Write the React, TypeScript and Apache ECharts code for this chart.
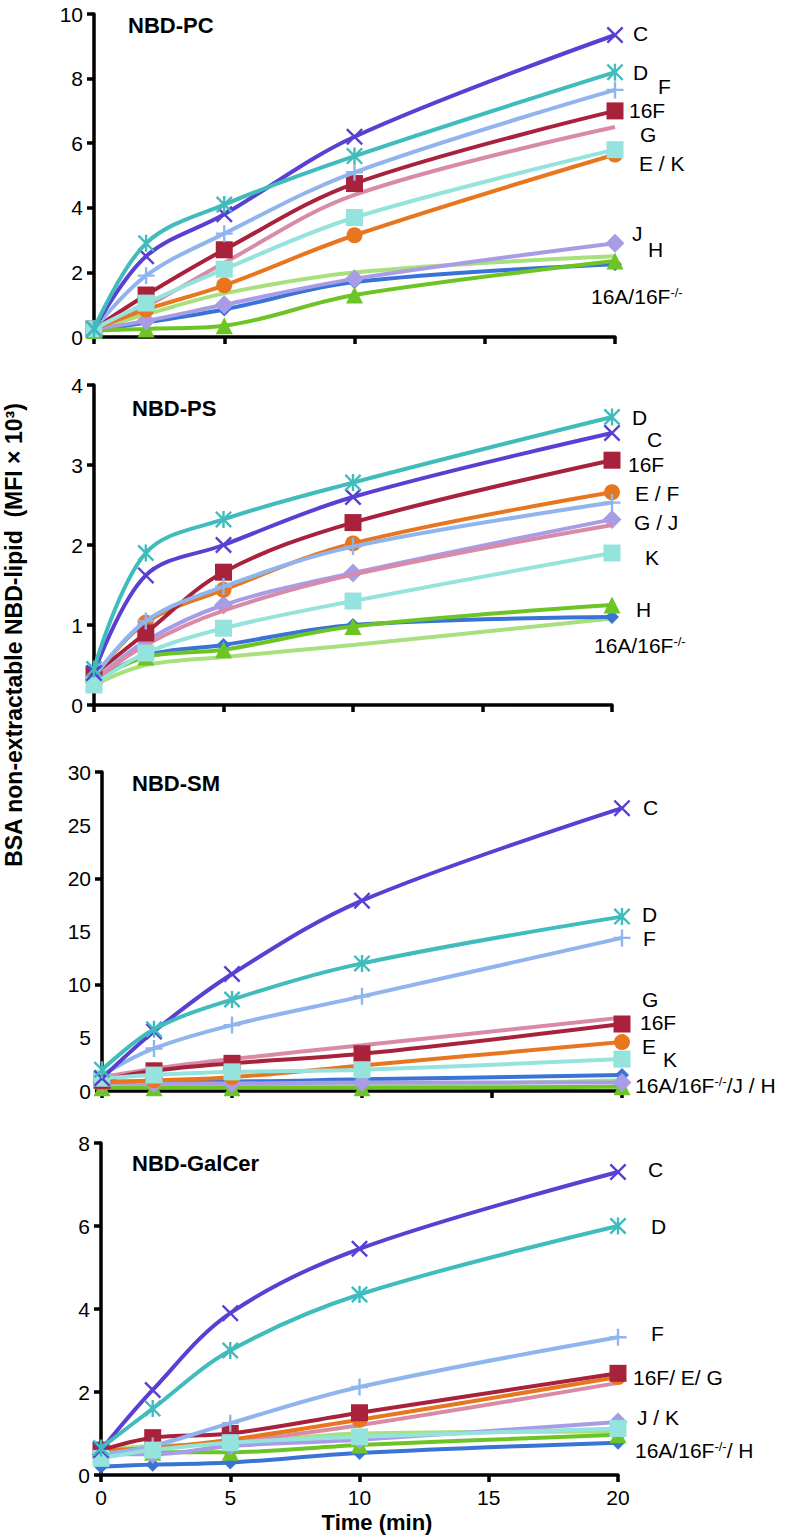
import React, { useEffect, useRef } from "react";
import * as echarts from "echarts";

// ---------------- DATA ----------------
const timeMin = [0, 2, 5, 10, 20];
const xTicks = [0, 5, 10, 15, 20];

// NBD-PC
const pcC = [0.25, 2.5, 3.8, 6.2, 9.35];
const pcD = [0.25, 2.9, 4.1, 5.6, 8.2];
const pcF = [0.25, 1.9, 3.2, 5.1, 7.65];
const pc16F = [0.25, 1.3, 2.7, 4.75, 7.0];
const pcG = [0.25, 0.95, 2.3, 4.4, 6.5];
const pcK = [0.25, 1.05, 2.1, 3.7, 5.8];
const pcE = [0.25, 0.85, 1.6, 3.15, 5.65];
const pc16A = [0.25, 0.7, 1.35, 2.0, 2.5];
const pcJ = [0.25, 0.5, 1.0, 1.8, 2.9];
const pc16FKO = [0.2, 0.45, 0.85, 1.7, 2.25];
const pcH = [0.2, 0.25, 0.35, 1.3, 2.35];

// NBD-PS
const psC = [0.4, 1.62, 2.0, 2.6, 3.4];
const psD = [0.45, 1.9, 2.32, 2.78, 3.6];
const psF = [0.35, 1.05, 1.48, 1.98, 2.53];
const ps16F = [0.38, 0.9, 1.66, 2.28, 3.06];
const psG = [0.3, 0.75, 1.18, 1.63, 2.25];
const psK = [0.25, 0.65, 0.96, 1.3, 1.9];
const psE = [0.35, 1.03, 1.44, 2.02, 2.66];
const ps16A = [0.25, 0.5, 0.6, 0.75, 1.08];
const psJ = [0.3, 0.8, 1.25, 1.65, 2.32];
const ps16FKO = [0.3, 0.62, 0.75, 1.0, 1.1];
const psH = [0.3, 0.6, 0.69, 0.98, 1.25];

// NBD-SM
const smC = [1.2, 5.6, 11.0, 17.9, 26.6];
const smD = [2.0, 5.8, 8.6, 12.0, 16.4];
const smF = [1.5, 4.0, 6.2, 8.9, 14.4];
const sm16F = [1.0, 1.9, 2.6, 3.5, 6.3];
const smG = [1.3, 2.1, 3.0, 4.3, 6.9];
const smK = [1.2, 1.5, 1.8, 2.0, 3.0];
const smE = [0.8, 1.0, 1.3, 2.4, 4.6];
const sm16A = [0.7, 0.6, 0.6, 0.6, 1.0];
const smJ = [0.8, 0.7, 0.7, 0.8, 0.8];
const sm16FKO = [0.9, 0.9, 0.9, 1.1, 1.5];
const smH = [0.3, 0.3, 0.3, 0.3, 0.4];

// NBD-GalCer
const gcC = [0.6, 2.05, 3.9, 5.45, 7.3];
const gcD = [0.65, 1.6, 3.0, 4.35, 6.0];
const gcF = [0.5, 0.7, 1.25, 2.12, 3.32];
const gc16F = [0.6, 0.9, 1.0, 1.5, 2.45];
const gcG = [0.55, 0.65, 0.8, 1.2, 2.22];
const gcK = [0.4, 0.6, 0.78, 0.92, 1.12];
const gcE = [0.6, 0.65, 0.85, 1.33, 2.36];
const gc16A = [0.6, 0.7, 0.75, 1.0, 1.05];
const gcJ = [0.5, 0.5, 0.7, 0.85, 1.28];
const gc16FKO = [0.2, 0.25, 0.3, 0.53, 0.78];
const gcH = [0.5, 0.55, 0.55, 0.72, 0.97];

const panelTitles = ["NBD-PC", "NBD-PS", "NBD-SM", "NBD-GalCer"];
const yMaxes = [10, 4, 30, 8];
const yIntervals = [2, 1, 5, 2];

// ---------------- LAYOUT / STYLE ----------------
const FONT = '"Liberation Sans", Arial, Helvetica, sans-serif';
const X_PATH = "path://M1,0L5,4L9,0L10,1L6,5L10,9L9,10L5,6L1,10L0,9L4,5L0,1Z";
const STAR_PATH =
  "path://M1,0L5,4L9,0L10,1L6,5L10,9L9,10L5,6L1,10L0,9L4,5L0,1Z M4.3,0L5.7,0L5.7,10L4.3,10Z";
const PLUS_PATH =
  "path://M4.3,0L5.7,0L5.7,4.3L10,4.3L10,5.7L5.7,5.7L5.7,10L4.3,10L4.3,5.7L0,5.7L0,4.3L4.3,4.3Z";

const SERIES_KEYS = ["16A", "16F-/-", "H", "J", "G", "E", "16F", "F", "K", "C", "D"];
const SERIES_STYLE: Record<string, { color: string; symbol: string; size: number }> = {
  "16A": { color: "#a9e07e", symbol: "none", size: 0 },
  "16F-/-": { color: "#3a73d6", symbol: "diamond", size: 14 },
  H: { color: "#6cc425", symbol: "triangle", size: 17 },
  J: { color: "#a99ce6", symbol: "diamond", size: 19 },
  G: { color: "#d98aa6", symbol: "none", size: 0 },
  E: { color: "#e8761e", symbol: "circle", size: 16 },
  "16F": { color: "#a8223b", symbol: "rect", size: 17 },
  F: { color: "#8fb4ee", symbol: PLUS_PATH, size: 17 },
  K: { color: "#94e3dc", symbol: "rect", size: 17 },
  C: { color: "#5a3fd3", symbol: X_PATH, size: 17 },
  D: { color: "#3fbcbb", symbol: STAR_PATH, size: 17 },
};

const PANEL_VALUES: Record<string, number[]>[] = [
  { C: pcC, D: pcD, F: pcF, "16F": pc16F, G: pcG, K: pcK, E: pcE, "16A": pc16A, J: pcJ, "16F-/-": pc16FKO, H: pcH },
  { C: psC, D: psD, F: psF, "16F": ps16F, G: psG, K: psK, E: psE, "16A": ps16A, J: psJ, "16F-/-": ps16FKO, H: psH },
  { C: smC, D: smD, F: smF, "16F": sm16F, G: smG, K: smK, E: smE, "16A": sm16A, J: smJ, "16F-/-": sm16FKO, H: smH },
  { C: gcC, D: gcD, F: gcF, "16F": gc16F, G: gcG, K: gcK, E: gcE, "16A": gc16A, J: gcJ, "16F-/-": gc16FKO, H: gcH },
];

const GRIDS = [
  { left: 94, top: 14, width: 521, height: 323 },
  { left: 94, top: 385, width: 518, height: 320 },
  { left: 102, top: 772, width: 520, height: 319 },
  { left: 101, top: 1143, width: 517, height: 332 },
];
const TITLE_POS = [
  { left: 128, top: 14 },
  { left: 132, top: 397 },
  { left: 132, top: 772 },
  { left: 132, top: 1152 },
];

// end-of-line annotations: anchored at x = 20 and value y, shifted dx pixels
const ANNOTATIONS: { text: string; y: number; dx: number }[][] = [
  [
    { text: "C", y: 9.41, dx: 18 },
    { text: "D", y: 8.2, dx: 18 },
    { text: "F", y: 7.74, dx: 43 },
    { text: "16F", y: 7.0, dx: 14 },
    { text: "G", y: 6.28, dx: 25 },
    { text: "E / K", y: 5.36, dx: 24 },
    { text: "J", y: 3.2, dx: 17 },
    { text: "H", y: 2.72, dx: 33 },
    { text: "16A/16F{sup|-/-}", y: 1.24, dx: -24 },
  ],
  [
    { text: "D", y: 3.6, dx: 20 },
    { text: "C", y: 3.32, dx: 35 },
    { text: "16F", y: 3.01, dx: 16 },
    { text: "E / F", y: 2.65, dx: 23 },
    { text: "G / J", y: 2.28, dx: 22 },
    { text: "K", y: 1.85, dx: 33 },
    { text: "H", y: 1.2, dx: 24 },
    { text: "16A/16F{sup|-/-}", y: 0.75, dx: -18 },
  ],
  [
    { text: "C", y: 26.7, dx: 21 },
    { text: "D", y: 16.6, dx: 20 },
    { text: "F", y: 14.3, dx: 21 },
    { text: "G", y: 8.6, dx: 20 },
    { text: "16F", y: 6.4, dx: 18 },
    { text: "E", y: 4.2, dx: 20 },
    { text: "K", y: 3.0, dx: 41 },
    { text: "16A/16F{sup|-/-}/J / H", y: 0.55, dx: 13 },
  ],
  [
    { text: "C", y: 7.35, dx: 30 },
    { text: "D", y: 5.98, dx: 33 },
    { text: "F", y: 3.42, dx: 33 },
    { text: "16F/ E/ G", y: 2.34, dx: 15 },
    { text: "J / K", y: 1.38, dx: 19 },
    { text: "16A/16F{sup|-/-}/ H", y: 0.6, dx: 17 },
  ],
];

const AXIS_W = 3.5;

function buildOption() {
  const grid = GRIDS.map((g) => ({ ...g, containLabel: false }));
  const xAxis = GRIDS.map((_, i) => ({
    type: "value",
    gridIndex: i,
    min: xTicks[0],
    max: xTicks[xTicks.length - 1],
    interval: 5,
    axisLine: { show: true, onZero: false, lineStyle: { color: "#000", width: AXIS_W } },
    axisTick: { show: true, length: 7, lineStyle: { color: "#000", width: AXIS_W } },
    axisLabel: { show: i === 3, color: "#000", fontSize: 21, fontFamily: FONT, margin: 12 },
    splitLine: { show: false },
  }));
  const yAxis: any[] = GRIDS.map((_, i) => ({
    type: "value",
    gridIndex: i,
    min: 0,
    max: yMaxes[i],
    interval: yIntervals[i],
    axisLine: { show: true, lineStyle: { color: "#000", width: AXIS_W } },
    axisTick: { show: i !== 2, length: 7, lineStyle: { color: "#000", width: AXIS_W } },
    axisLabel: { color: "#000", fontSize: 21, fontFamily: FONT, margin: 11 },
    splitLine: { show: false },
  }));
  // tick-only axis for the NBD-SM panel (ticks every 10, labels every 5)
  yAxis.push({
    type: "value",
    gridIndex: 2,
    position: "left",
    min: 0,
    max: 30,
    interval: 10,
    axisLine: { show: false },
    axisTick: { show: true, length: 7, lineStyle: { color: "#000", width: AXIS_W } },
    axisLabel: { show: false },
    splitLine: { show: false },
  });

  const series: any[] = [];
  PANEL_VALUES.forEach((vals, p) => {
    SERIES_KEYS.forEach((key, k) => {
      const st = SERIES_STYLE[key];
      const arr = vals[key];
      series.push({
        type: "line",
        name: key,
        xAxisIndex: p,
        yAxisIndex: p,
        data: timeMin.map((t, j) => [t, arr[j]]),
        smooth: 0.35,
        symbol: st.symbol,
        showSymbol: st.symbol !== "none",
        symbolSize: st.size,
        lineStyle: { color: st.color, width: 4 },
        itemStyle: { color: st.color },
        z: 2 + k,
        clip: false,
        silent: true,
      });
    });
  });

  const title = panelTitles.map((t, i) => ({
    text: t,
    left: TITLE_POS[i].left,
    top: TITLE_POS[i].top,
    padding: 0,
    textStyle: { fontFamily: FONT, fontSize: 22, fontWeight: "bold", color: "#000" },
  }));

  return {
    animation: false,
    backgroundColor: "#fff",
    title,
    grid,
    xAxis,
    yAxis,
    series,
  };
}

export default function App() {
  const ref = useRef<HTMLDivElement>(null);
  useEffect(() => {
    if (!ref.current) return;
    const chart = echarts.init(ref.current, undefined, { renderer: "svg" });
    chart.setOption(buildOption() as any);

    const graphic: any[] = [];
    ANNOTATIONS.forEach((list, p) => {
      list.forEach((a) => {
        const pt = chart.convertToPixel({ xAxisIndex: p, yAxisIndex: p } as any, [20, a.y]) as number[];
        graphic.push({
          type: "text",
          x: pt[0] + a.dx,
          y: pt[1],
          silent: true,
          style: {
            text: a.text,
            fontFamily: FONT,
            fontSize: 21,
            fill: "#000",
            align: "left",
            verticalAlign: "middle",
            rich: {
              sup: { fontSize: 13, fontFamily: FONT, fill: "#000", verticalAlign: "top" },
            },
          },
        });
      });
    });
    graphic.push({
      type: "text",
      x: 14,
      y: 635,
      rotation: Math.PI / 2,
      silent: true,
      style: {
        text: "BSA non-extractable NBD-lipid  (MFI \u00d7 10\u00b3)",
        fontFamily: FONT,
        fontSize: 23,
        fontWeight: "bold",
        fill: "#000",
        align: "center",
        verticalAlign: "middle",
      },
    });
    graphic.push({
      type: "text",
      x: 377,
      y: 1522,
      silent: true,
      style: {
        text: "Time (min)",
        fontFamily: FONT,
        fontSize: 22,
        fontWeight: "bold",
        fill: "#000",
        align: "center",
        verticalAlign: "middle",
      },
    });
    chart.setOption({ graphic });
    return () => chart.dispose();
  }, []);
  return (
    <div
      ref={ref}
      style={{ position: "absolute", left: 0, top: 0, width: 793, height: 1538, background: "#fff" }}
    />
  );
}
